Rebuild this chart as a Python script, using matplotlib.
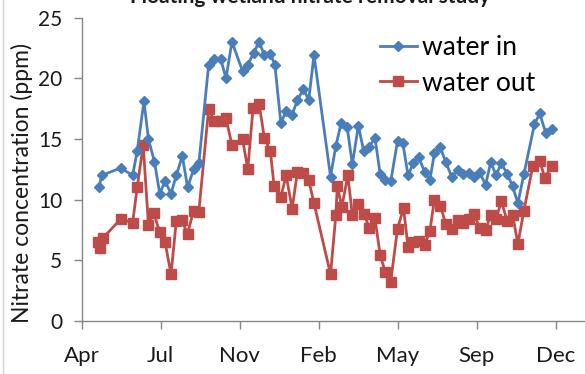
import matplotlib
matplotlib.use("Agg")
import matplotlib.pyplot as plt
from matplotlib.lines import Line2D

plt.rcParams['font.family'] = ['Lato', 'DejaVu Sans']

# days since start of record (ticks every 105 days)
days_in = [23, 27, 52, 68, 74, 83, 89, 97, 104, 111, 119, 126, 134, 141, 149, 156,
           169, 176, 185, 192, 200, 214, 221, 229, 236, 243, 251, 257, 265, 272,
           280, 287, 295, 302, 309, 331, 338, 345, 353, 360, 368, 375, 382, 390,
           397, 404, 411, 420, 427, 434, 441, 448, 456, 463, 469, 477, 484, 492,
           500, 507, 515, 522, 529, 537, 544, 551, 558, 566, 573, 580, 588, 602,
           609, 617, 625]
water_in = [11.0, 12.0, 12.6, 12.0, 14.0, 18.1, 15.0, 13.1, 10.5, 11.5, 10.5, 12.0,
            13.6, 11.0, 12.5, 13.0, 21.1, 21.6, 21.6, 20.0, 23.0, 20.6, 21.1, 22.1,
            23.0, 21.9, 22.0, 21.1, 16.3, 17.3, 17.0, 18.2, 19.1, 18.2, 21.9, 11.9,
            14.4, 16.3, 16.0, 12.9, 16.1, 14.0, 14.3, 15.1, 12.1, 11.6, 11.5, 14.8,
            14.7, 12.0, 13.0, 13.5, 12.3, 11.6, 13.8, 14.3, 13.1, 11.9, 12.4, 12.1,
            12.2, 11.9, 12.3, 11.2, 13.1, 12.0, 13.0, 12.1, 11.1, 9.7, 12.1, 16.2,
            17.1, 15.5, 15.8]

days_out = [22, 25, 28, 52, 68, 74, 82, 89, 96, 104, 111, 119, 126, 133, 141, 149,
            156, 169, 176, 185, 192, 200, 214, 221, 228, 236, 243, 251, 256, 265,
            272, 280, 287, 295, 302, 309, 331, 338, 340, 346, 354, 360, 368, 376,
            382, 390, 397, 404, 411, 420, 428, 434, 441, 448, 456, 463, 469, 477,
            484, 492, 500, 507, 515, 522, 529, 537, 544, 551, 558, 566, 573, 580,
            588, 600, 609, 616, 625]
water_out = [6.5, 6.0, 6.8, 8.4, 8.1, 11.0, 14.5, 7.9, 8.9, 7.3, 6.5, 3.85, 8.25,
             8.3, 7.2, 9.1, 9.0, 17.5, 16.5, 16.5, 16.7, 14.5, 15.0, 12.5, 17.55,
             17.9, 15.1, 14.0, 11.1, 10.25, 12.0, 9.25, 12.3, 12.2, 11.6, 9.7, 3.85,
             8.7, 11.1, 9.4, 12.0, 8.7, 9.6, 8.8, 7.7, 8.5, 5.4, 4.0, 3.25, 7.6, 9.3,
             6.1, 6.5, 6.6, 6.3, 7.4, 10.0, 9.5, 8.0, 7.6, 8.3, 8.05, 8.4, 8.8, 7.65,
             7.5, 8.75, 8.4, 9.85, 8.2, 8.75, 6.35, 9.1, 12.8, 13.15, 11.8, 12.8]

tick_days = [0, 105, 210, 315, 420, 525, 630]
tick_labels = ['Apr', 'Jul', 'Nov', 'Feb', 'May', 'Sep', 'Dec']

blue = '#4a7ebb'
red = '#be4b48'
axis_gray = '#868686'

W, H = 585, 374
fig = plt.figure(figsize=(W / 100, H / 100), dpi=100)
ax = fig.add_axes([81.5 / W, (H - 321) / H, 1 - 81.5 / W, (321 - 17.5) / H])

ax.plot(days_in, water_in, color=blue, lw=2.0, marker='D', ms=5.5,
        mfc=blue, mec=blue, label='water in', zorder=3)
ax.plot(days_out, water_out, color=red, lw=2.0, marker='s', ms=6.5,
        mfc=red, mec=red, label='water out', zorder=2)

ax.set_xlim(0, (W - 81.5) * 105 / 79)
ax.set_ylim(0, 25)
ax.set_yticks([0, 5, 10, 15, 20, 25])
ax.set_xticks(tick_days)
ax.set_xticklabels(tick_labels)

for side in ['top', 'right']:
    ax.spines[side].set_visible(False)
for side in ['left', 'bottom']:
    ax.spines[side].set_color(axis_gray)
    ax.spines[side].set_linewidth(1.0)

ax.tick_params(axis='y', direction='out', length=6, width=1, color=axis_gray,
               labelsize=15, pad=8, labelcolor='#1a1a1a')
ax.tick_params(axis='x', direction='out', length=6, width=1, color=axis_gray,
               labelsize=16, pad=12, labelcolor='#1a1a1a')

fig.text(22 / W, 1 - 183 / H, 'Nitrate concentration (ppm)', rotation=90,
         ha='center', va='center', fontsize=16.5, color='#1a1a1a')

leg = ax.legend(loc='upper left', bbox_to_anchor=(380 / W, 1 - 35 / H),
                bbox_transform=fig.transFigure, frameon=False, fontsize=19,
                handlelength=1.4, handletextpad=0.2, labelspacing=0.4,
                borderpad=0, borderaxespad=0)

# title of the original figure, mostly cut off at the top edge
fig.text(310 / W, 1 - 3 / H, 'Floating wetland nitrate removal study',
         ha='center', va='baseline', fontsize=15, fontweight='bold', color='#1a1a1a')

# light frame line on the left edge
fig.add_artist(Line2D([2.5 / W, 2.5 / W], [0, 1], transform=fig.transFigure,
                      color='#d0d0d0', lw=1))

fig.savefig('out.png', dpi=100)
